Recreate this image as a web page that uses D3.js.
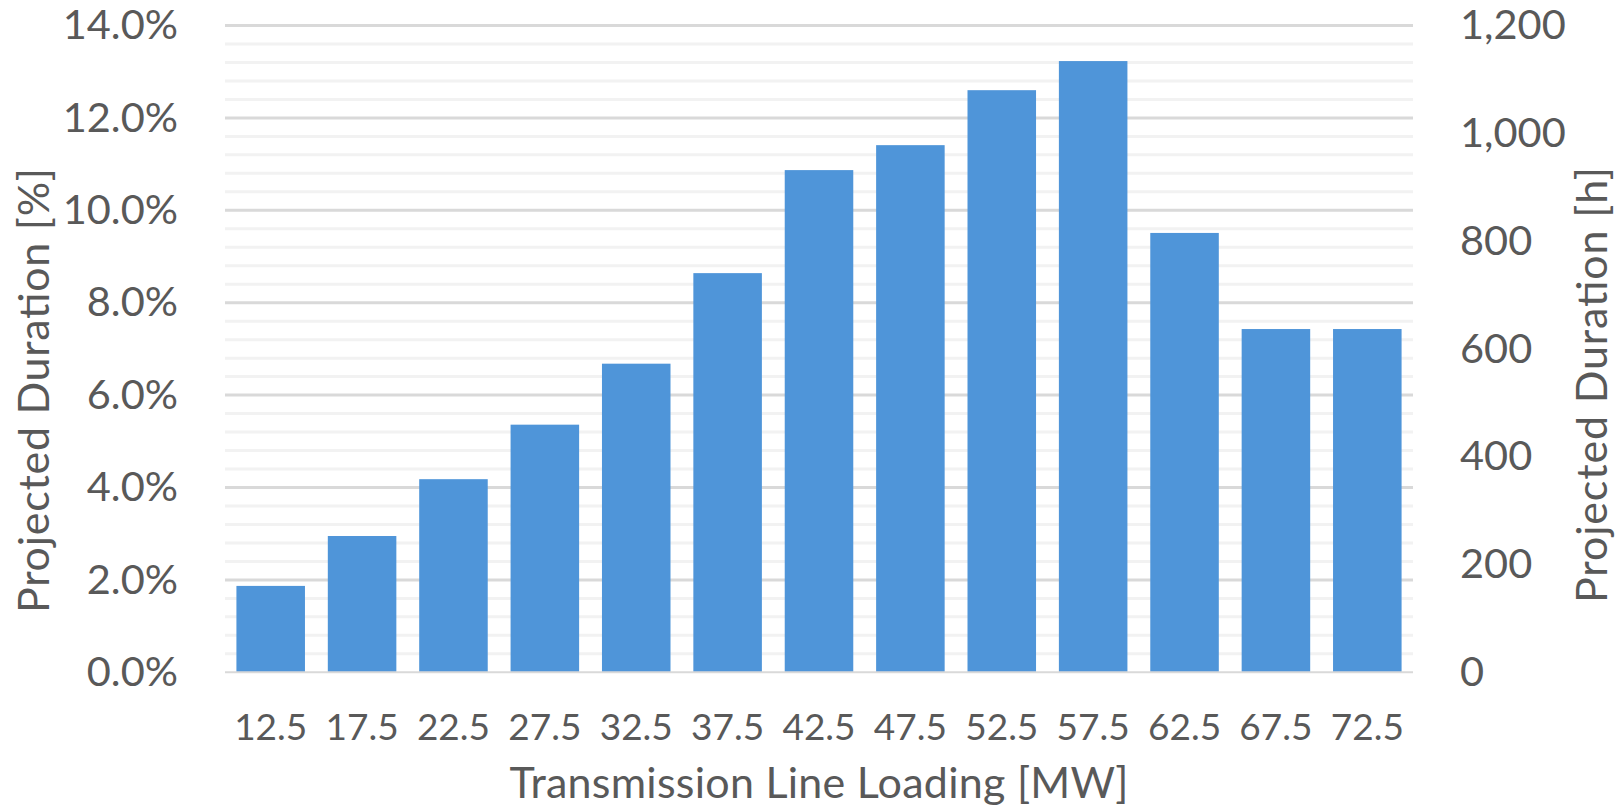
<!DOCTYPE html>
<html>
<head>
<meta charset="utf-8">
<script src="https://cdn.jsdelivr.net/npm/d3@7"></script>
<style>
  html, body { margin: 0; padding: 0; background: #ffffff; }
  svg { display: block; }
  text { font-family: Lato, "Open Sans", sans-serif; fill: #595959; }
</style>
</head>
<body>
<svg id="chart" width="1616" height="807"></svg>
<script>
// Transmission line loading bins [MW]
const categories = ["12.5", "17.5", "22.5", "27.5", "32.5", "37.5", "42.5",
                    "47.5", "52.5", "57.5", "62.5", "67.5", "72.5"];
// Projected duration share per bin [%]
const durationPct = [1.87, 2.95, 4.18, 5.36, 6.68, 8.64, 10.87,
                     11.41, 12.60, 13.23, 9.51, 7.43, 7.43];
// Axis ticks
const leftTicks = [0, 2, 4, 6, 8, 10, 12, 14];
const rightTicks = [0, 200, 400, 600, 800, 1000, 1200];

const svg = d3.select("#chart");

const plot = { left: 225, right: 1413, top: 25.5, bottom: 672.3 };

const x = d3.scaleBand()
  .domain(categories)
  .range([plot.left, plot.right])
  .paddingInner(0.25)
  .paddingOuter(0.125);

const y = d3.scaleLinear().domain([0, 14]).range([plot.bottom, plot.top]);
const yRight = d3.scaleLinear().domain([0, 1200]).range([plot.bottom, plot.top]);

// Minor gridlines every 0.4 %
const minor = d3.range(0, 14.0001, 0.4).filter(v => Math.abs(v / 2 - Math.round(v / 2)) > 1e-6);
svg.append("g").selectAll("line").data(minor).join("line")
  .attr("x1", plot.left).attr("x2", plot.right)
  .attr("y1", d => y(d)).attr("y2", d => y(d))
  .attr("stroke", "#f2f2f2").attr("stroke-width", 3);

// Major gridlines
svg.append("g").selectAll("line").data(leftTicks.filter(d => d > 0)).join("line")
  .attr("x1", plot.left).attr("x2", plot.right)
  .attr("y1", d => y(d)).attr("y2", d => y(d))
  .attr("stroke", "#d9d9d9").attr("stroke-width", 3);

// Bars
svg.append("g").selectAll("rect").data(durationPct).join("rect")
  .attr("x", (d, i) => x(categories[i]))
  .attr("width", x.bandwidth())
  .attr("y", d => y(d))
  .attr("height", d => y(0) - y(d))
  .attr("fill", "#4f95d9");

// Baseline
svg.append("line")
  .attr("x1", plot.left).attr("x2", plot.right)
  .attr("y1", y(0)).attr("y2", y(0))
  .attr("stroke", "#d9d9d9").attr("stroke-width", 2);

// Left axis
const leftAxis = svg.append("g")
  .attr("transform", `translate(${178},0)`)
  .call(d3.axisLeft(y).tickValues(leftTicks).tickSize(0).tickPadding(0)
    .tickFormat(d => d3.format(".1f")(d) + "%"));
leftAxis.select(".domain").remove();
leftAxis.selectAll("text").style("font-size", "41.5px").style("font-family", "Lato").attr("fill", "#595959");

// Right axis
const rightAxis = svg.append("g")
  .attr("transform", `translate(${1460},0)`)
  .call(d3.axisRight(yRight).tickValues(rightTicks).tickSize(0).tickPadding(0)
    .tickFormat(d3.format(",")));
rightAxis.select(".domain").remove();
rightAxis.selectAll("text").style("font-size", "41.5px").style("font-family", "Lato").attr("fill", "#595959");

// Bottom axis
const bottomAxis = svg.append("g")
  .attr("transform", `translate(0,${plot.bottom})`)
  .call(d3.axisBottom(x).tickSize(0).tickPadding(0));
bottomAxis.select(".domain").remove();
bottomAxis.selectAll("text")
  .attr("dy", null).attr("y", 68)
  .style("font-size", "37px").style("font-family", "Lato").attr("fill", "#595959");

// Axis titles
svg.append("text")
  .attr("x", (plot.left + plot.right) / 2).attr("y", 798)
  .attr("text-anchor", "middle").style("font-size", "43px")
  .attr("textLength", 619).attr("lengthAdjust", "spacing")
  .text("Transmission Line Loading [MW]");

svg.append("text")
  .attr("transform", "translate(48.5,390.5) rotate(-90)")
  .attr("text-anchor", "middle").style("font-size", "43px")
  .attr("textLength", 445).attr("lengthAdjust", "spacing")
  .text("Projected Duration [%]");

svg.append("text")
  .attr("transform", "translate(1607,385) rotate(-90)")
  .attr("text-anchor", "middle").style("font-size", "43px")
  .attr("textLength", 436).attr("lengthAdjust", "spacing")
  .text("Projected Duration [h]");
</script>
</body>
</html>
